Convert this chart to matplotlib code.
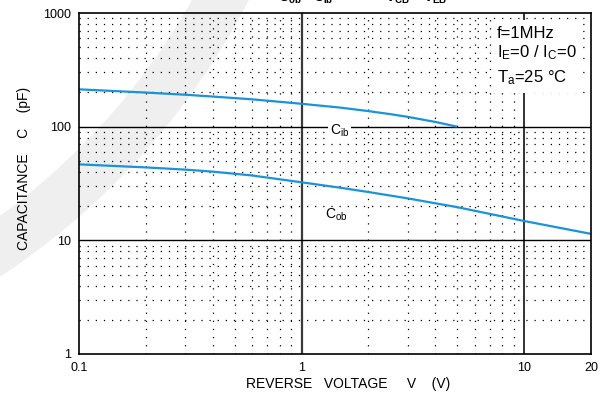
import matplotlib
matplotlib.use("Agg")
import matplotlib.pyplot as plt
from matplotlib.patches import Rectangle, Wedge
from matplotlib.transforms import IdentityTransform

plt.rcParams['font.family'] = ['Liberation Sans', 'DejaVu Sans']
plt.rcParams['mathtext.fontset'] = 'custom'
plt.rcParams['mathtext.rm'] = 'Liberation Sans'
plt.rcParams['mathtext.it'] = 'Liberation Sans:italic'
plt.rcParams['mathtext.bf'] = 'Liberation Sans:bold'

# Capacitance vs reverse voltage
v_ib = [0.1, 0.15, 0.2, 0.3, 0.4, 0.6, 1, 1.5, 2, 2.5, 3, 4, 5]
c_ib = [213, 205, 199.5, 191, 184, 174, 159, 147, 137, 129, 122, 110, 100]
v_ob = [0.1, 0.2, 0.3, 0.4, 0.6, 1, 1.5, 2, 3, 5, 10, 20]
c_ob = [46.6, 43.8, 41.9, 40.2, 37.2, 32.4, 29.0, 26.6, 23.4, 19.6, 14.8, 11.4]

x_ticks = [0.1, 1, 10, 20]
x_ticklabels = ["0.1", "1", "10", "20"]
y_ticks = [1, 10, 100, 1000]
y_ticklabels = ["1", "10", "100", "1000"]
conditions = ["f=1MHz", "I$_{\\rm E}$=0 / I$_{\\rm C}$=0", "T$_{\\rm a}$=25 \u00b0C"]
title_parts = ["C$_{\\mathbf{ob}}$", "C$_{\\mathbf{ib}}$", "V$_{\\mathbf{CB}}$", "V$_{\\mathbf{EB}}$"]

W, H = 605, 394
fig = plt.figure(figsize=(W / 100, H / 100), dpi=100)

# faint background swoosh (arc of a large ring)
swoosh = Wedge((-402, H + 335), 732, -62, -20, width=50, transform=IdentityTransform(),
               facecolor="#efefef", edgecolor="none", zorder=-5)
fig.patches.append(swoosh)

L, R, T, B = 79, 591, 13, 354
ax = fig.add_axes([L / W, 1 - B / H, (R - L) / W, (B - T) / H])
ax.patch.set_alpha(0)
ax.set_xscale("log")
ax.set_yscale("log")
ax.set_xlim(0.1, 20)
ax.set_ylim(1, 1000)

ax.grid(which="minor", linestyle=(0, (1, 5.5)), color="black", linewidth=0.9)
ax.grid(which="major", visible=False)
ax.axvline(1, color="#3a3a3a", linewidth=1.6, zorder=2)
ax.axvline(10, color="#222222", linewidth=1.3, zorder=2)
for yv in (10, 100):
    ax.axhline(yv, color="black", linewidth=1.0, zorder=2)

ax.set_xticks(x_ticks)
ax.set_xticklabels(x_ticklabels)
ax.set_yticks(y_ticks)
ax.set_yticklabels(y_ticklabels)
ax.tick_params(which="both", length=0, labelsize=9, colors="black")
ax.tick_params(axis="x", pad=6)
ax.tick_params(axis="y", pad=6)
for s in ax.spines.values():
    s.set_linewidth(1.2)
    s.set_zorder(6)

blue = "#1b93d9"
ax.plot(v_ib, c_ib, color=blue, linewidth=1.6, zorder=3, solid_capstyle="butt")
ax.plot(v_ob, c_ob, color=blue, linewidth=1.6, zorder=3, solid_capstyle="butt")

ax.text(1.34, 86, "C$_{\\rm ib}$", fontsize=10, ha="left", va="baseline", zorder=4,
        bbox=dict(facecolor="white", edgecolor="none", pad=1.5))
ax.text(1.28, 15.4, "C$_{\\rm ob}$", fontsize=10, ha="left", va="baseline", zorder=4)

# conditions box
ax.add_patch(Rectangle((0.8086, 0.765), 0.175, 0.214, transform=ax.transAxes,
                       facecolor="white", edgecolor="none", zorder=5))
for txt, yb in zip(conditions, [0.9267, 0.871, 0.7977]):
    ax.text(0.8164, yb, txt, transform=ax.transAxes, fontsize=12, ha="left",
            va="baseline", zorder=6)

ax.set_xlabel("REVERSE   VOLTAGE     V    (V)", fontsize=10)
ax.xaxis.set_label_coords(0.525, -0.066)
ax.set_ylabel("CAPACITANCE    C    (pF)", fontsize=10)
ax.yaxis.set_label_coords(-0.094, 0.545)

for txt, xp in zip(title_parts, [278, 313, 385, 423]):
    fig.text(xp / W, 1 - 1.5 / H, txt, fontsize=10, fontweight="bold", ha="left", va="baseline")

fig.savefig("out.png", dpi=100)
